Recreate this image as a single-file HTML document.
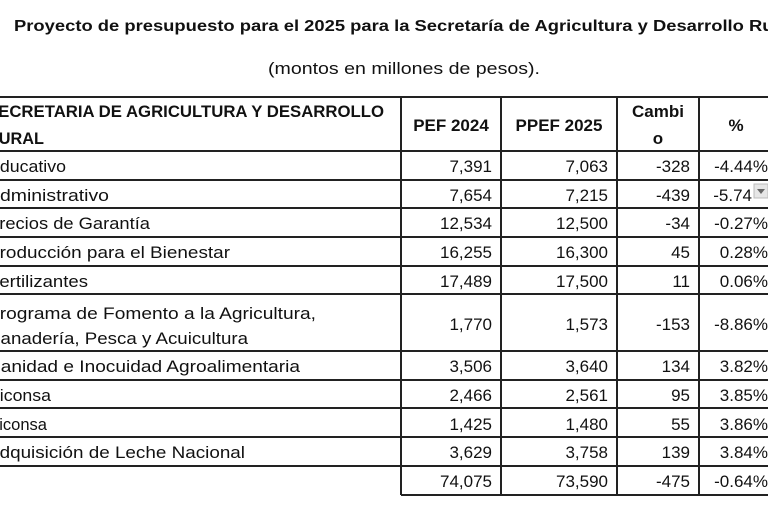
<!DOCTYPE html>
<html><head><meta charset="utf-8"><style>
html,body{margin:0;padding:0;background:#fff;width:768px;height:512px;overflow:hidden}
svg{display:block}
text{font-family:"Liberation Sans",sans-serif;fill:#111}
.b{font-weight:bold}
</style></head><body>
<svg width="768" height="512" viewBox="0 0 768 512">
<text x="14" y="31" class="b" font-size="16" textLength="782" lengthAdjust="spacingAndGlyphs">Proyecto de presupuesto para el 2025 para la Secretaría de Agricultura y Desarrollo Rural</text>
<text x="268" y="74" font-size="17" textLength="272" lengthAdjust="spacingAndGlyphs">(montos en millones de pesos).</text>
<g stroke="#222" stroke-width="2" fill="none">
<line x1="0" y1="97" x2="768" y2="97"/>
<line x1="0" y1="151" x2="768" y2="151"/>
<line x1="0" y1="180" x2="768" y2="180"/>
<line x1="0" y1="208" x2="768" y2="208"/>
<line x1="0" y1="237" x2="768" y2="237"/>
<line x1="0" y1="266" x2="768" y2="266"/>
<line x1="0" y1="294" x2="768" y2="294"/>
<line x1="0" y1="351" x2="768" y2="351"/>
<line x1="0" y1="380" x2="768" y2="380"/>
<line x1="0" y1="408" x2="768" y2="408"/>
<line x1="0" y1="437" x2="768" y2="437"/>
<line x1="0" y1="466" x2="768" y2="466"/>
<line x1="401" y1="495" x2="768" y2="495"/>
<line x1="401" y1="97" x2="401" y2="495"/>
<line x1="501" y1="97" x2="501" y2="495"/>
<line x1="617" y1="97" x2="617" y2="495"/>
<line x1="699" y1="97" x2="699" y2="495"/>
</g>
<g font-size="17">
<text x="-13" y="117" class="b" textLength="397" lengthAdjust="spacingAndGlyphs">SECRETARIA DE AGRICULTURA Y DESARROLLO</text>
<text x="-13" y="144" class="b" textLength="57" lengthAdjust="spacingAndGlyphs">RURAL</text>
<text x="-12" y="172" textLength="78" lengthAdjust="spacingAndGlyphs">Educativo</text>
<text x="-13" y="201" textLength="122" lengthAdjust="spacingAndGlyphs">Administrativo</text>
<text x="-13" y="229" textLength="163" lengthAdjust="spacingAndGlyphs">Precios de Garantía</text>
<text x="-13" y="258" textLength="243" lengthAdjust="spacingAndGlyphs">Producción para el Bienestar</text>
<text x="-12" y="287" textLength="100" lengthAdjust="spacingAndGlyphs">Fertilizantes</text>
<text x="-13" y="319" textLength="329" lengthAdjust="spacingAndGlyphs">Programa de Fomento a la Agricultura,</text>
<text x="-14" y="344" textLength="262" lengthAdjust="spacingAndGlyphs">Ganadería, Pesca y Acuicultura</text>
<text x="-12" y="372" textLength="312" lengthAdjust="spacingAndGlyphs">Sanidad e Inocuidad Agroalimentaria</text>
<text x="-13" y="401" textLength="64" lengthAdjust="spacingAndGlyphs">Diconsa</text>
<text x="-10" y="430" textLength="57" lengthAdjust="spacingAndGlyphs">Liconsa</text>
<text x="-13" y="458" textLength="258" lengthAdjust="spacingAndGlyphs">Adquisición de Leche Nacional</text>
</g>
<g font-size="17" class="b" text-anchor="middle">
<text x="451" y="131" class="b">PEF 2024</text>
<text x="559" y="131" class="b">PPEF 2025</text>
<text x="658" y="117" class="b">Cambi</text>
<text x="658" y="144" class="b">o</text>
<text x="736" y="131" class="b">%</text>
</g>
<g font-size="17" text-anchor="end">
<text x="492" y="172">7,391</text><text x="608" y="172">7,063</text><text x="690" y="172">-328</text><text x="768" y="172">-4.44%</text>
<text x="492" y="201">7,654</text><text x="608" y="201">7,215</text><text x="690" y="201">-439</text><text x="752" y="201">-5.74</text>
<text x="492" y="229">12,534</text><text x="608" y="229">12,500</text><text x="690" y="229">-34</text><text x="768" y="229">-0.27%</text>
<text x="492" y="258">16,255</text><text x="608" y="258">16,300</text><text x="690" y="258">45</text><text x="768" y="258">0.28%</text>
<text x="492" y="287">17,489</text><text x="608" y="287">17,500</text><text x="690" y="287">11</text><text x="768" y="287">0.06%</text>
<text x="492" y="330">1,770</text><text x="608" y="330">1,573</text><text x="690" y="330">-153</text><text x="768" y="330">-8.86%</text>
<text x="492" y="372">3,506</text><text x="608" y="372">3,640</text><text x="690" y="372">134</text><text x="768" y="372">3.82%</text>
<text x="492" y="401">2,466</text><text x="608" y="401">2,561</text><text x="690" y="401">95</text><text x="768" y="401">3.85%</text>
<text x="492" y="430">1,425</text><text x="608" y="430">1,480</text><text x="690" y="430">55</text><text x="768" y="430">3.86%</text>
<text x="492" y="458">3,629</text><text x="608" y="458">3,758</text><text x="690" y="458">139</text><text x="768" y="458">3.84%</text>
<text x="492" y="487">74,075</text><text x="608" y="487">73,590</text><text x="690" y="487">-475</text><text x="768" y="487">-0.64%</text>
</g>
<rect x="754" y="184" width="14" height="14" fill="#e6e6e6" stroke="#bbb"/>
<path d="M757 189 L765 189 L761 194 Z" fill="#666"/>
</svg>
</body></html>
